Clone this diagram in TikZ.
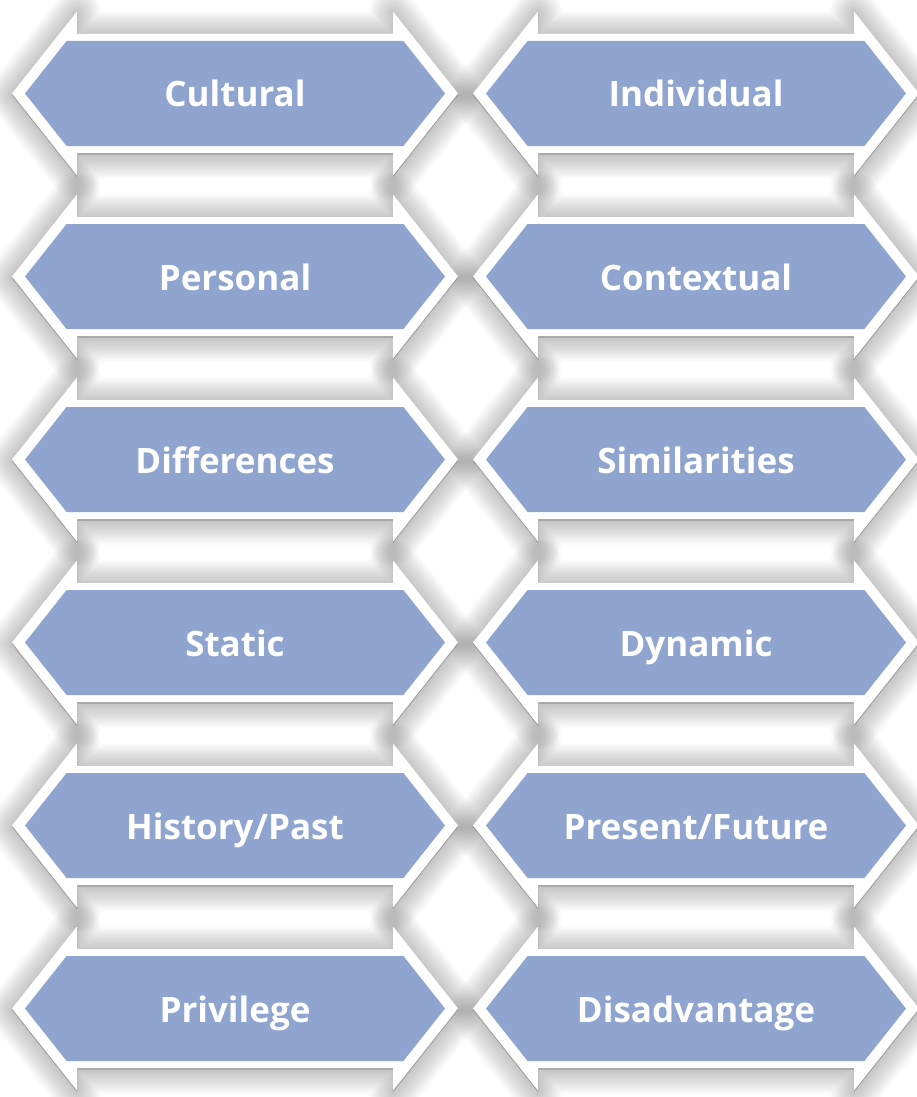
\documentclass[tikz,border=0pt]{standalone}
\usepackage{fontspec}
\setmainfont{Open Sans}
\definecolor{arrowblue}{RGB}{143,164,206}
\definecolor{shadowgrey}{RGB}{70,70,70}
\tikzset{
  shadowlayer/.style={draw=shadowgrey, fill=shadowgrey, line join=round, opacity=0.018},
  outerarrow/.style={fill=white, draw=none},
  innerhex/.style={fill=arrowblue, draw=none},
  arrowtext/.style={text=white, anchor=base, inner sep=0pt, font=\bfseries\fontsize{35}{40}\selectfont}
}
\newcommand{\outerpath}[2]{% #1 = x offset, #2 = y centre
  ({12+#1},{#2}) -- ({77+#1},{#2-82}) -- ({77+#1},{#2-59.5}) -- ({393+#1},{#2-59.5}) -- ({393+#1},{#2-82}) -- ({458+#1},{#2}) -- ({393+#1},{#2+82}) -- ({393+#1},{#2+59.5}) -- ({77+#1},{#2+59.5}) -- ({77+#1},{#2+82}) -- cycle}
\newcommand{\innerpath}[2]{%
  ({25+#1},{#2}) -- ({66.6+#1},{#2-52.5}) -- ({403.4+#1},{#2-52.5}) -- ({445+#1},{#2}) -- ({403.4+#1},{#2+52.5}) -- ({66.6+#1},{#2+52.5}) -- cycle}
\begin{document}
\begin{tikzpicture}[x=1pt,y=-1pt]
\useasboundingbox (0,0) rectangle (917,1097);
\fill[white] (0,0) rectangle (917,1097);
% soft shadows first
\foreach \r in {0,...,5}{
  \foreach \xo in {0,461}{
    \pgfmathsetmacro{\yc}{95+183*\r}
    \foreach \k in {1,...,16}{
      \path[shadowlayer, line width=3*\k pt] \outerpath{\xo}{\yc};
    }
  }
}
% white arrows and blue hexagons
\foreach \r in {0,...,5}{
  \foreach \xo in {0,461}{
    \pgfmathsetmacro{\yc}{93.5+183*\r}
    \path[outerarrow] \outerpath{\xo}{\yc};
    \path[innerhex] \innerpath{\xo}{\yc};
  }
}
% labels
\node[arrowtext] (l1) at (235,107) {Cultural};
\node[arrowtext] (r1) at (696,107) {Individual};
\node[arrowtext] (l2) at (235,290) {Personal};
\node[arrowtext] (r2) at (696,290) {Contextual};
\node[arrowtext] (l3) at (235,473) {Differences};
\node[arrowtext] (r3) at (696,473) {Similarities};
\node[arrowtext] (l4) at (235,656) {Static};
\node[arrowtext] (r4) at (696,656) {Dynamic};
\node[arrowtext] (l5) at (235,839) {History/Past};
\node[arrowtext] (r5) at (696,839) {Present/Future};
\node[arrowtext] (l6) at (235,1022) {Privilege};
\node[arrowtext] (r6) at (696,1022) {Disadvantage};
\end{tikzpicture}
\end{document}
